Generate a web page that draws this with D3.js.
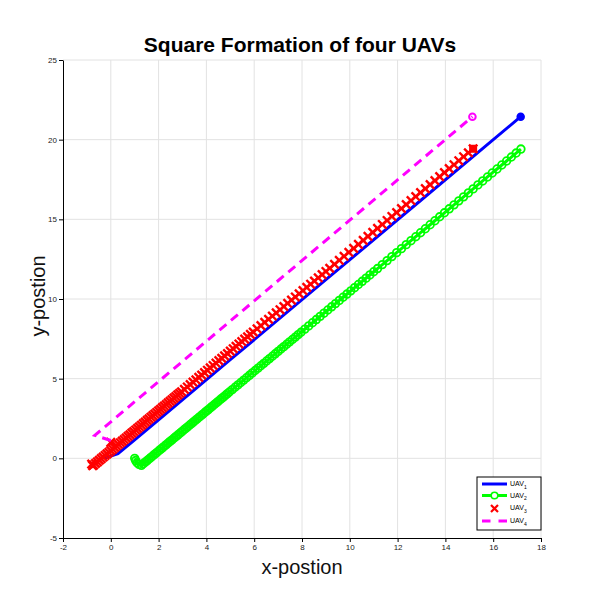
<!DOCTYPE html>
<html>
<head>
<meta charset="utf-8">
<script src="https://cdn.jsdelivr.net/npm/d3@7"></script>
<style>
body { margin: 0; background: #fff; }
svg { font-family: Arial, "Liberation Sans", sans-serif; }
</style>
</head>
<body>
<svg id="chart" width="605" height="591"></svg>
<script>
// tick values
var xTicks = [-2, 0, 2, 4, 6, 8, 10, 12, 14, 16, 18];
var yTicks = [-5, 0, 5, 10, 15, 20, 25];
var legendNames = ["1", "2", "3", "4"];

// UAV 1 (blue line)
var uav1X = [-0.25, 0.30, 1.00, 2.00, 5.00, 9.00, 13.00, 17.15];
var uav1Y = [0.02, 0.30, 1.16, 2.42, 6.19, 11.21, 16.23, 21.44];

// UAV 2 (green line + circles)
var uav2X = [1.00, 1.04, 1.10, 1.18, 1.28,
    1.36, 1.44, 1.52, 1.60, 1.68, 1.76, 1.84, 1.92, 2.00, 2.08, 2.16, 2.24, 2.32, 2.40, 2.48, 2.56,
    2.64, 2.72, 2.80, 2.88, 2.96, 3.04, 3.12, 3.20, 3.28, 3.36, 3.44, 3.52, 3.60, 3.68, 3.76, 3.84,
    3.92, 4.00, 4.08, 4.16, 4.24, 4.32, 4.40, 4.48, 4.56, 4.64, 4.72, 4.80, 4.88, 4.96,
    5.08, 5.20, 5.32, 5.44, 5.56, 5.68, 5.80, 5.92, 6.04, 6.16, 6.28, 6.40, 6.52, 6.64, 6.76, 6.88,
    7.00, 7.12, 7.24, 7.36, 7.48, 7.60, 7.72, 7.84, 7.96,
    8.12, 8.28, 8.44, 8.60, 8.76, 8.92, 9.08, 9.24, 9.40, 9.56, 9.72, 9.88, 10.04, 10.20, 10.36,
    10.52, 10.68, 10.84, 11.00, 11.16,
    11.36, 11.56, 11.76, 11.96, 12.16, 12.36, 12.56, 12.76, 12.96, 13.16, 13.36, 13.56, 13.76, 13.96,
    14.16, 14.36, 14.56, 14.76, 14.96, 15.16, 15.36, 15.56, 15.76, 15.96, 16.16, 16.36, 16.56, 16.76,
    16.96, 17.16];
var uav2Y = [0.00, -0.14, -0.28, -0.38, -0.44,
    -0.34, -0.24, -0.14, -0.04, 0.06, 0.16, 0.26, 0.36, 0.46, 0.56, 0.66, 0.76, 0.86, 0.96, 1.06, 1.16,
    1.26, 1.36, 1.46, 1.56, 1.66, 1.76, 1.86, 1.96, 2.06, 2.16, 2.26, 2.36, 2.46, 2.56, 2.66, 2.76,
    2.86, 2.96, 3.06, 3.16, 3.26, 3.36, 3.46, 3.56, 3.66, 3.76, 3.86, 3.96, 4.06, 4.16,
    4.31, 4.46, 4.61, 4.76, 4.91, 5.06, 5.21, 5.36, 5.51, 5.66, 5.81, 5.96, 6.11, 6.26, 6.41, 6.56,
    6.71, 6.86, 7.01, 7.16, 7.31, 7.46, 7.61, 7.76, 7.91,
    8.11, 8.31, 8.51, 8.71, 8.91, 9.11, 9.31, 9.51, 9.71, 9.91, 10.11, 10.31, 10.51, 10.71, 10.91,
    11.11, 11.31, 11.51, 11.71, 11.91,
    12.16, 12.41, 12.66, 12.91, 13.16, 13.41, 13.66, 13.91, 14.16, 14.41, 14.66, 14.91, 15.16, 15.41,
    15.66, 15.91, 16.16, 16.41, 16.66, 16.91, 17.16, 17.41, 17.66, 17.91, 18.16, 18.41, 18.66, 18.91,
    19.16, 19.41];

// UAV 3 (red x markers)
var uav3X = [0.00, -0.80, -0.76, -0.72,
    -0.64, -0.56, -0.48, -0.40, -0.32, -0.24, -0.16, -0.08, 0.00, 0.08, 0.16, 0.24, 0.32, 0.40, 0.48,
    0.56, 0.64, 0.72, 0.80, 0.88, 0.96, 1.04, 1.12, 1.20, 1.28, 1.36, 1.44, 1.52, 1.60, 1.68, 1.76,
    1.84, 1.92, 2.00, 2.08, 2.16, 2.24, 2.32, 2.40, 2.48, 2.56, 2.64, 2.72, 2.80, 2.88, 2.96,
    3.08, 3.20, 3.32, 3.44, 3.56, 3.68, 3.80, 3.92, 4.04, 4.16, 4.28, 4.40, 4.52, 4.64, 4.76, 4.88,
    5.00, 5.12, 5.24, 5.36, 5.48, 5.60, 5.72, 5.84, 5.96,
    6.12, 6.28, 6.44, 6.60, 6.76, 6.92, 7.08, 7.24, 7.40, 7.56, 7.72, 7.88, 8.04, 8.20, 8.36, 8.52,
    8.68, 8.84, 9.00, 9.16,
    9.36, 9.56, 9.76, 9.96, 10.16, 10.36, 10.56, 10.76, 10.96, 11.16, 11.36, 11.56, 11.76, 11.96,
    12.16, 12.36, 12.56, 12.76, 12.96, 13.16, 13.36, 13.56, 13.76, 13.96, 14.16, 14.36, 14.56, 14.76,
    14.96, 15.16];
var uav3Y = [1.00, -0.36, -0.46, -0.42,
    -0.32, -0.22, -0.12, -0.02, 0.08, 0.18, 0.28, 0.38, 0.48, 0.58, 0.68, 0.78, 0.88, 0.98, 1.08,
    1.18, 1.28, 1.38, 1.48, 1.58, 1.68, 1.78, 1.88, 1.98, 2.08, 2.18, 2.28, 2.38, 2.48, 2.58, 2.68,
    2.78, 2.88, 2.98, 3.08, 3.18, 3.28, 3.38, 3.48, 3.58, 3.68, 3.78, 3.88, 3.98, 4.08, 4.18,
    4.33, 4.48, 4.63, 4.78, 4.93, 5.08, 5.23, 5.38, 5.53, 5.68, 5.83, 5.98, 6.13, 6.28, 6.43, 6.58,
    6.73, 6.88, 7.03, 7.18, 7.33, 7.48, 7.63, 7.78, 7.93,
    8.13, 8.33, 8.53, 8.73, 8.93, 9.13, 9.33, 9.53, 9.73, 9.93, 10.13, 10.33, 10.53, 10.73, 10.93,
    11.13, 11.33, 11.53, 11.73, 11.93,
    12.18, 12.43, 12.68, 12.93, 13.18, 13.43, 13.68, 13.93, 14.18, 14.43, 14.68, 14.93, 15.18, 15.43,
    15.68, 15.93, 16.18, 16.43, 16.68, 16.93, 17.18, 17.43, 17.68, 17.93, 18.18, 18.43, 18.68, 18.93,
    19.18, 19.43];

// UAV 4 (magenta dashed)
var uav4X = [0.00, -0.67, 15.13];
var uav4Y = [1.12, 1.44, 21.44];

var blue = "#0000ff", green = "#00ff00", red = "#ff0000", magenta = "#ff00ff";

var svg = d3.select("#chart");

var x = d3.scaleLinear().domain([-2, 18]).range([63, 541]),
    y = d3.scaleLinear().domain([-5, 25]).range([538, 60]);

function toPoints(xs, ys) {
    return xs.map(function (d, i) {
        return [d, ys[i]];
    });
}

var line = d3.line()
    .x(function (d) { return x(d[0]); })
    .y(function (d) { return y(d[1]); });

// grid
svg.append("g").selectAll("line")
    .data(xTicks.slice(1))
    .enter().append("line")
    .attr("x1", function (d) { return x(d); })
    .attr("x2", function (d) { return x(d); })
    .attr("y1", y(-5))
    .attr("y2", y(25))
    .attr("stroke", "#e2e2e2")
    .attr("stroke-width", 1);

svg.append("g").selectAll("line")
    .data(yTicks.slice(1))
    .enter().append("line")
    .attr("x1", x(-2))
    .attr("x2", x(18))
    .attr("y1", function (d) { return y(d); })
    .attr("y2", function (d) { return y(d); })
    .attr("stroke", "#e2e2e2")
    .attr("stroke-width", 1);

// axes
var xAxis = svg.append("g")
    .attr("transform", "translate(0," + y(-5) + ")")
    .call(d3.axisBottom(x).tickValues(xTicks).tickFormat(String).tickSize(4).tickSizeOuter(0).tickPadding(2));
var yAxis = svg.append("g")
    .attr("transform", "translate(" + x(-2) + ",0)")
    .call(d3.axisLeft(y).tickValues(yTicks).tickFormat(String).tickSize(4).tickSizeOuter(0).tickPadding(2));

[xAxis, yAxis].forEach(function (g) {
    g.selectAll("text").attr("font-size", 8).attr("font-family", "Arial, 'Liberation Sans', sans-serif").attr("fill", "#222");
    g.select(".domain").attr("stroke", "#000");
    g.selectAll(".tick line").attr("stroke", "#000");
});

var plot = svg.append("g");

// UAV 2 line + circles
var pts2 = toPoints(uav2X, uav2Y);
plot.append("path")
    .attr("d", line(pts2))
    .attr("fill", "none")
    .attr("stroke", green)
    .attr("stroke-width", 3);
plot.append("g").selectAll("circle")
    .data(pts2)
    .enter().append("circle")
    .attr("cx", function (d) { return x(d[0]); })
    .attr("cy", function (d) { return y(d[1]); })
    .attr("r", 3.8)
    .attr("fill", "none")
    .attr("stroke", green)
    .attr("stroke-width", 1.8);

// UAV 1 line
var pts1 = toPoints(uav1X, uav1Y);
plot.append("path")
    .attr("d", line(pts1))
    .attr("fill", "none")
    .attr("stroke", blue)
    .attr("stroke-width", 3);
plot.append("circle")
    .attr("cx", x(uav1X[uav1X.length - 1]))
    .attr("cy", y(uav1Y[uav1Y.length - 1]))
    .attr("r", 3.5)
    .attr("fill", blue)
    .attr("stroke", blue)
    .attr("stroke-width", 1.5);

// UAV 3 x markers
var pts3 = toPoints(uav3X, uav3Y);
var s = 4.2;
plot.append("g").selectAll("path")
    .data(pts3)
    .enter().append("path")
    .attr("d", function (d) {
        var cx = x(d[0]), cy = y(d[1]);
        return "M" + (cx - s) + "," + (cy - s) + "L" + (cx + s) + "," + (cy + s) +
            "M" + (cx - s) + "," + (cy + s) + "L" + (cx + s) + "," + (cy - s);
    })
    .attr("stroke", red)
    .attr("stroke-width", 2.4)
    .attr("fill", "none");
plot.append("rect")
    .attr("x", x(uav3X[uav3X.length - 1]) - 4)
    .attr("y", y(uav3Y[uav3Y.length - 1]) - 4)
    .attr("width", 8)
    .attr("height", 8)
    .attr("fill", red);

// UAV 4 dashed
var pts4 = toPoints(uav4X, uav4Y);
plot.append("path")
    .attr("d", line(pts4))
    .attr("fill", "none")
    .attr("stroke", magenta)
    .attr("stroke-width", 3)
    .attr("stroke-dasharray", "9,6");
plot.append("circle")
    .attr("cx", x(uav4X[uav4X.length - 1]))
    .attr("cy", y(uav4Y[uav4Y.length - 1]))
    .attr("r", 3.3)
    .attr("fill", "none")
    .attr("stroke", magenta)
    .attr("stroke-width", 2);

// title and labels
svg.append("text")
    .attr("x", 300)
    .attr("y", 52)
    .attr("text-anchor", "middle")
    .attr("font-size", 21)
    .attr("font-weight", "bold")
    .attr("fill", "#000")
    .text("Square Formation of four UAVs");

svg.append("text")
    .attr("x", 302)
    .attr("y", 574)
    .attr("text-anchor", "middle")
    .attr("font-size", 20)
    .attr("fill", "#111")
    .text("x-postion");

svg.append("text")
    .attr("transform", "translate(45,296) rotate(-90)")
    .attr("text-anchor", "middle")
    .attr("font-size", 20)
    .attr("fill", "#111")
    .text("y-postion");

// legend
var lg = svg.append("g").attr("transform", "translate(477,477)");
lg.append("rect")
    .attr("width", 64)
    .attr("height", 53)
    .attr("fill", "#fff")
    .attr("stroke", "#000")
    .attr("stroke-width", 1);

var rowY = [7, 18.5, 31, 44];
legendNames.forEach(function (n, i) {
    var row = lg.append("g").attr("transform", "translate(0," + rowY[i] + ")");
    if (i === 0) {
        row.append("line").attr("x1", 5).attr("x2", 30).attr("stroke", blue).attr("stroke-width", 3);
    } else if (i === 1) {
        row.append("line").attr("x1", 5).attr("x2", 30).attr("stroke", green).attr("stroke-width", 3);
        row.append("circle").attr("cx", 17.5).attr("r", 3.3).attr("fill", "#fff").attr("stroke", green).attr("stroke-width", 1.6);
    } else if (i === 2) {
        row.append("path").attr("d", "M14,-3L21,4M14,4L21,-3").attr("stroke", red).attr("stroke-width", 2.2);
    } else {
        row.append("line").attr("x1", 5).attr("x2", 30).attr("stroke", magenta).attr("stroke-width", 3)
            .attr("stroke-dasharray", "8.5,8");
    }
    var t = row.append("text").attr("x", 33).attr("y", 2).attr("font-size", 7).attr("fill", "#000");
    t.append("tspan").text("UAV");
    t.append("tspan").attr("font-size", 5).attr("dy", 2.5).text(n);
});
</script>
</body>
</html>
